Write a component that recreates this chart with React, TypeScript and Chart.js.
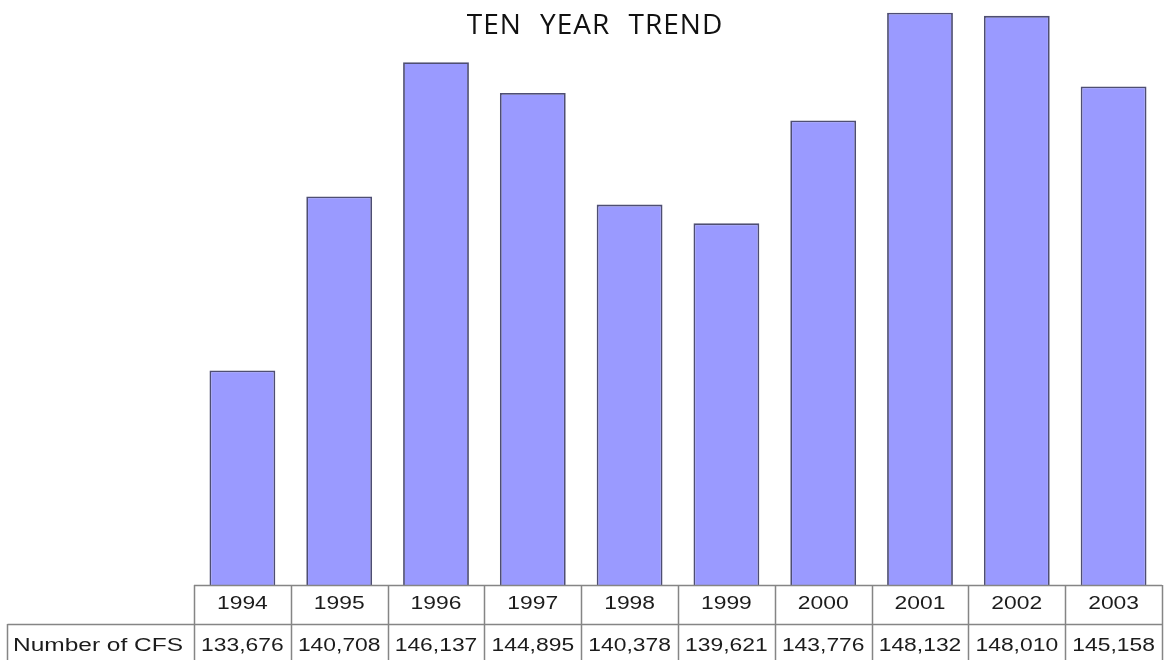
import React, { useEffect, useRef } from "react";
import { Chart, registerables } from "chart.js";

Chart.register(...registerables);

const TITLE = "TEN YEAR TREND";
const YEARS = ["1994", "1995", "1996", "1997", "1998", "1999", "2000", "2001", "2002", "2003"];
const CFS = [133676, 140708, 146137, 144895, 140378, 139621, 143776, 148132, 148010, 145158];
const ROW_LABEL = "Number of CFS";
const Y_MIN = 125000;
const Y_MAX = 148650;

const fmt = (v: number) => v.toLocaleString("en-US");

const tablePlugin = {
  id: "dataTable",
  afterDraw(chart: any) {
    const ctx: CanvasRenderingContext2D = chart.ctx;
    const xs = chart.scales.x;
    const area = chart.chartArea;
    const n = YEARS.length;
    const colW = (area.right - area.left) / n;
    const top1 = area.bottom;
    const top2 = top1 + 39;
    const bottom = top2 + 40;
    const leftCell = 7.5;

    ctx.save();
    ctx.strokeStyle = "#858585";
    ctx.lineWidth = 1.5;
    ctx.beginPath();
    ctx.moveTo(area.left, top1 + 0.5);
    ctx.lineTo(area.right, top1 + 0.5);
    ctx.moveTo(leftCell, top2 + 0.5);
    ctx.lineTo(area.right, top2 + 0.5);
    for (let i = 0; i <= n; i++) {
      const x = Math.round(area.left + i * colW) + 0.5;
      ctx.moveTo(x, top1);
      ctx.lineTo(x, bottom);
    }
    ctx.moveTo(leftCell, top2);
    ctx.lineTo(leftCell, bottom);
    ctx.stroke();

    const drawStretched = (text: string, cx: number, baseline: number, align: "center" | "left", sx: number) => {
      ctx.save();
      ctx.translate(cx, baseline);
      ctx.scale(sx, 1);
      ctx.textAlign = align;
      ctx.textBaseline = "alphabetic";
      ctx.fillText(text, 0, 0);
      ctx.restore();
    };
    ctx.fillStyle = "#1c1c1c";
    ctx.font = "18px 'Liberation Sans', Arial, sans-serif";
    YEARS.forEach((y, i) => {
      const cx = xs.getPixelForValue(i);
      drawStretched(y, cx, top1 + 23.5, "center", 1.27);
      drawStretched(fmt(CFS[i]), cx, top2 + 27, "center", 1.27);
    });
    drawStretched(ROW_LABEL, 13, top2 + 27, "left", 1.36);

    ctx.fillStyle = "#111111";
    ctx.font = "28px 'Open Sans', sans-serif";
    ctx.textAlign = "center";
    ctx.textBaseline = "alphabetic";
    (ctx as any).letterSpacing = "1px";
    (ctx as any).wordSpacing = "10px";
    ctx.fillText(TITLE, 595, 33.5);
    ctx.restore();
  },
};

export default function App() {
  const ref = useRef<HTMLCanvasElement | null>(null);
  useEffect(() => {
    if (!ref.current) return;
    const chart = new Chart(ref.current, {
      type: "bar",
      data: {
        labels: YEARS,
        datasets: [
          {
            label: ROW_LABEL,
            data: CFS,
            backgroundColor: "#9a9aff",
            borderColor: "#4e4e72",
            borderWidth: 1.8,
            categoryPercentage: 1,
            barPercentage: 0.68,
          },
        ],
      },
      options: {
        animation: false,
        responsive: false,
        devicePixelRatio: 1,
        layout: { padding: { left: 194, right: 3, top: 0, bottom: 75 } },
        scales: {
          x: { display: false },
          y: { display: false, min: Y_MIN, max: Y_MAX },
        },
        plugins: {
          legend: { display: false },
          tooltip: { enabled: false },
          title: { display: false },
        },
      },
      plugins: [tablePlugin],
    });
    return () => chart.destroy();
  }, []);
  return (
    <div style={{ position: "fixed", left: 0, top: 0, width: 1165, height: 660, background: "#fff" }}>
      <canvas ref={ref} width={1165} height={660} />
    </div>
  );
}
